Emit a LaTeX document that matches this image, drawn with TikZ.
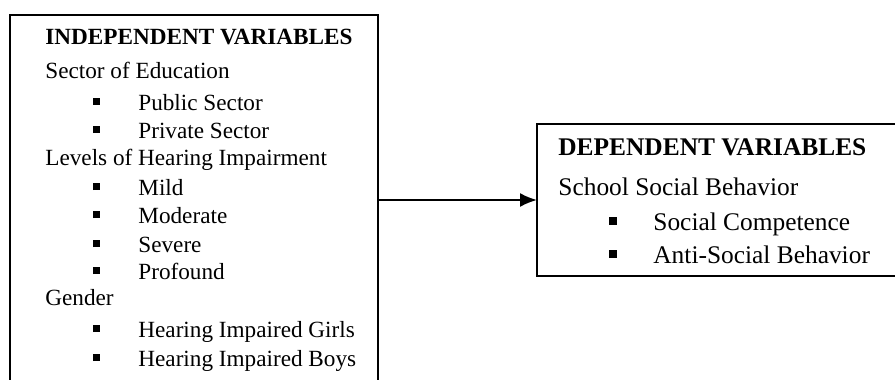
\documentclass[tikz,border=0pt]{standalone}
\usepackage{fontspec}
\setmainfont{Liberation Serif}
\usetikzlibrary{arrows.meta}
\newcommand{\lsq}{\rule[2.5pt]{3.5pt}{3.5pt}}
\newcommand{\rsq}{\rule[2.7pt]{4pt}{4pt}}
\begin{document}
\begin{tikzpicture}[x=0.5pt,y=-0.5pt,
 frame/.style={draw, line width=1pt, anchor=north west, inner sep=0pt, outer sep=0pt},
 ltext/.style={anchor=base west, inner sep=0pt, font=\fontsize{11.6}{14}\selectfont},
 rtext/.style={anchor=base west, inner sep=0pt, font=\fontsize{12.7}{15}\selectfont},
 conn/.style={line width=1pt, -{Latex[length=8.5pt,width=7pt]}}]
\useasboundingbox[fill=white] (0,0) rectangle (895,380);
\node[frame, minimum width=184pt, minimum height=195pt] (indep) at (10,15) {};
\node[frame, minimum width=187pt, minimum height=76pt] (dep) at (537,124) {};
% left texts
\node[ltext] (l1) at (45,45) {\textbf{INDEPENDENT VARIABLES}};
\node[ltext] (l2) at (45,78) {Sector of Education};
\node[ltext] (l3) at (93,110) {\makebox[22.5pt][l]{\lsq}Public Sector};
\node[ltext] (l4) at (93,138) {\makebox[22.5pt][l]{\lsq}Private Sector};
\node[ltext] (l5) at (45,165) {Levels of Hearing Impairment};
\node[ltext] (l6) at (93,195) {\makebox[22.5pt][l]{\lsq}Mild};
\node[ltext] (l7) at (93,223) {\makebox[22.5pt][l]{\lsq}Moderate};
\node[ltext] (l8) at (93,252) {\makebox[22.5pt][l]{\lsq}Severe};
\node[ltext] (l9) at (93,279) {\makebox[22.5pt][l]{\lsq}Profound};
\node[ltext] (l10) at (45,305) {Gender};
\node[ltext] (l11) at (93,337) {\makebox[22.5pt][l]{\lsq}Hearing Impaired Girls};
\node[ltext] (l12) at (93,366) {\makebox[22.5pt][l]{\lsq}Hearing Impaired Boys};
% right texts
\node[rtext] (r1) at (558,155) {\textbf{DEPENDENT VARIABLES}};
\node[rtext] (r2) at (558,195) {School Social Behavior};
\node[rtext] (r3) at (609,230) {\makebox[22pt][l]{\rsq}Social Competence};
\node[rtext] (r4) at (609,263) {\makebox[22pt][l]{\rsq}Anti-Social Behavior};
% connector
\draw[conn] (dep.west -| indep.east) -- (dep.west);
\end{tikzpicture}
\end{document}
